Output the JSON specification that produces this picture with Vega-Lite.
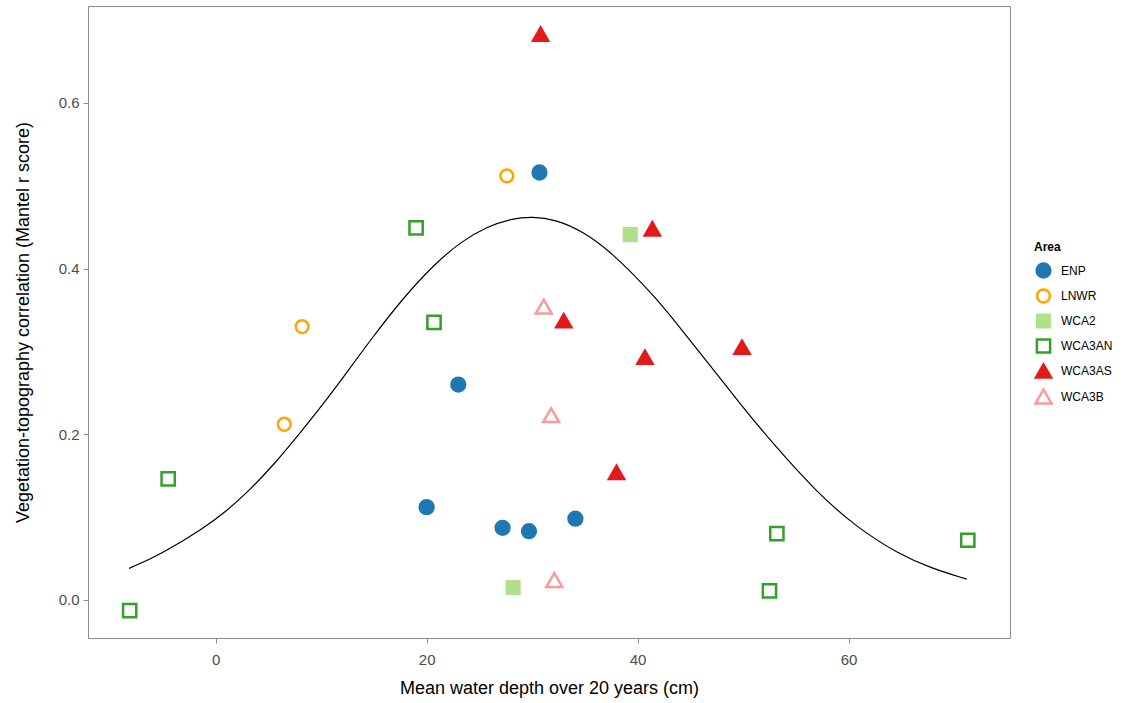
{
  "$schema": "https://vega.github.io/schema/vega-lite/v6.json",
  "width": 922,
  "height": 632,
  "autosize": {"type": "none"},
  "padding": {"left": 88, "top": 6, "right": 115, "bottom": 65},
  "background": "white",
  "config": {
    "view": {"stroke": "#8c8c8c", "strokeWidth": 1},
    "font": "Liberation Sans",
    "axis": {
      "grid": false,
      "domain": false,
      "tickColor": "#8c8c8c",
      "tickSize": 5,
      "labelFont": "Liberation Sans",
      "labelFontSize": 15,
      "labelColor": "#4d4d4d",
      "titleFont": "Liberation Sans",
      "titleFontSize": 18,
      "titleFontWeight": "normal",
      "titleColor": "#000000"
    },
    "legend": {
      "titleFont": "Liberation Sans",
      "labelFont": "Liberation Sans",
      "titleFontSize": 12,
      "labelFontSize": 12,
      "titleFontWeight": "bold",
      "orient": "none",
      "legendX": 946,
      "legendY": 236,
      "symbolStrokeWidth": 2.5,
      "rowPadding": 1,
      "labelOffset": 8,
      "titlePadding": 8
    }
  },
  "datasets": {
    "curve": [
      {"depth": -8.2, "r": 0.038},
      {"depth": -5.2, "r": 0.055},
      {"depth": -1.2, "r": 0.086},
      {"depth": 1.1, "r": 0.108},
      {"depth": 3.2, "r": 0.132},
      {"depth": 5.7, "r": 0.166},
      {"depth": 8.1, "r": 0.203},
      {"depth": 10.6, "r": 0.243},
      {"depth": 12.8, "r": 0.281},
      {"depth": 14.7, "r": 0.314},
      {"depth": 17.6, "r": 0.362},
      {"depth": 20.7, "r": 0.405},
      {"depth": 23.3, "r": 0.433},
      {"depth": 25.8, "r": 0.451},
      {"depth": 28.0, "r": 0.460},
      {"depth": 30.0, "r": 0.463},
      {"depth": 32.3, "r": 0.459},
      {"depth": 34.8, "r": 0.445},
      {"depth": 37.7, "r": 0.418},
      {"depth": 41.5, "r": 0.368},
      {"depth": 43.5, "r": 0.337},
      {"depth": 46.5, "r": 0.289},
      {"depth": 49.7, "r": 0.237},
      {"depth": 52.8, "r": 0.189},
      {"depth": 56.9, "r": 0.131},
      {"depth": 60.7, "r": 0.088},
      {"depth": 64.8, "r": 0.055},
      {"depth": 67.7, "r": 0.039},
      {"depth": 71.2, "r": 0.025}
    ],
    "points": [
      {"Area": "ENP", "depth": 30.7, "r": 0.516},
      {"Area": "ENP", "depth": 23.0, "r": 0.260},
      {"Area": "ENP", "depth": 20.0, "r": 0.112},
      {"Area": "ENP", "depth": 27.2, "r": 0.087},
      {"Area": "ENP", "depth": 29.7, "r": 0.083},
      {"Area": "ENP", "depth": 34.1, "r": 0.098},
      {"Area": "LNWR", "depth": 27.6, "r": 0.512},
      {"Area": "LNWR", "depth": 8.2, "r": 0.330},
      {"Area": "LNWR", "depth": 6.5, "r": 0.212},
      {"Area": "WCA2", "depth": 39.3, "r": 0.441},
      {"Area": "WCA2", "depth": 28.2, "r": 0.015},
      {"Area": "WCA3AN", "depth": 19.0, "r": 0.449},
      {"Area": "WCA3AN", "depth": 20.7, "r": 0.335},
      {"Area": "WCA3AN", "depth": -4.5, "r": 0.146},
      {"Area": "WCA3AN", "depth": -8.15, "r": -0.013},
      {"Area": "WCA3AN", "depth": 53.2, "r": 0.080},
      {"Area": "WCA3AN", "depth": 52.5, "r": 0.011},
      {"Area": "WCA3AN", "depth": 71.3, "r": 0.072},
      {"Area": "WCA3AS", "depth": 30.8, "r": 0.683},
      {"Area": "WCA3AS", "depth": 41.4, "r": 0.448},
      {"Area": "WCA3AS", "depth": 33.0, "r": 0.337},
      {"Area": "WCA3AS", "depth": 40.7, "r": 0.293},
      {"Area": "WCA3AS", "depth": 49.9, "r": 0.305},
      {"Area": "WCA3AS", "depth": 38.0, "r": 0.154},
      {"Area": "WCA3B", "depth": 31.1, "r": 0.354},
      {"Area": "WCA3B", "depth": 31.8, "r": 0.223},
      {"Area": "WCA3B", "depth": 32.1, "r": 0.024}
    ]
  },
  "encoding": {
    "x": {
      "field": "depth",
      "type": "quantitative",
      "scale": {"domain": [-12.1, 75.3], "nice": false, "zero": false},
      "axis": {"values": [0, 20, 40, 60], "title": "Mean water depth over 20 years (cm)", "labelPadding": 9, "titlePadding": 12}
    },
    "y": {
      "field": "r",
      "type": "quantitative",
      "scale": {"domain": [-0.046, 0.717], "nice": false, "zero": false},
      "axis": {"values": [0, 0.2, 0.4, 0.6], "format": ".1f", "title": "Vegetation-topography correlation (Mantel r score)", "labelPadding": 4, "titlePadding": 26}
    }
  },
  "layer": [
    {
      "data": {"name": "curve"},
      "mark": {"type": "line", "color": "black", "strokeWidth": 1.2, "interpolate": "basis"}
    },
    {
      "data": {"name": "points"},
      "mark": {"type": "point", "strokeWidth": 2.5, "opacity": 1},
      "encoding": {
        "shape": {
          "field": "Area", "type": "nominal", "title": "Area",
          "scale": {"domain": ["ENP", "LNWR", "WCA2", "WCA3AN", "WCA3AS", "WCA3B"], "range": ["circle", "circle", "square", "square", "triangle-up", "triangle-up"]}
        },
        "size": {
          "field": "Area", "type": "nominal", "title": "Area",
          "scale": {"type": "ordinal", "domain": ["ENP", "LNWR", "WCA2", "WCA3AN", "WCA3AS", "WCA3B"], "range": [190, 165, 160, 175, 230, 255]}
        },
        "stroke": {
          "field": "Area", "type": "nominal", "title": "Area",
          "scale": {"domain": ["ENP", "LNWR", "WCA2", "WCA3AN", "WCA3AS", "WCA3B"], "range": ["#1f78b4", "#ffa500", "#b2df8a", "#33a02c", "#e31a1c", "#fb9a99"]}
        },
        "fill": {
          "field": "Area", "type": "nominal", "title": "Area",
          "scale": {"domain": ["ENP", "LNWR", "WCA2", "WCA3AN", "WCA3AS", "WCA3B"], "range": ["#1f78b4", "transparent", "#b2df8a", "transparent", "#e31a1c", "transparent"]}
        }
      }
    }
  ]
}
